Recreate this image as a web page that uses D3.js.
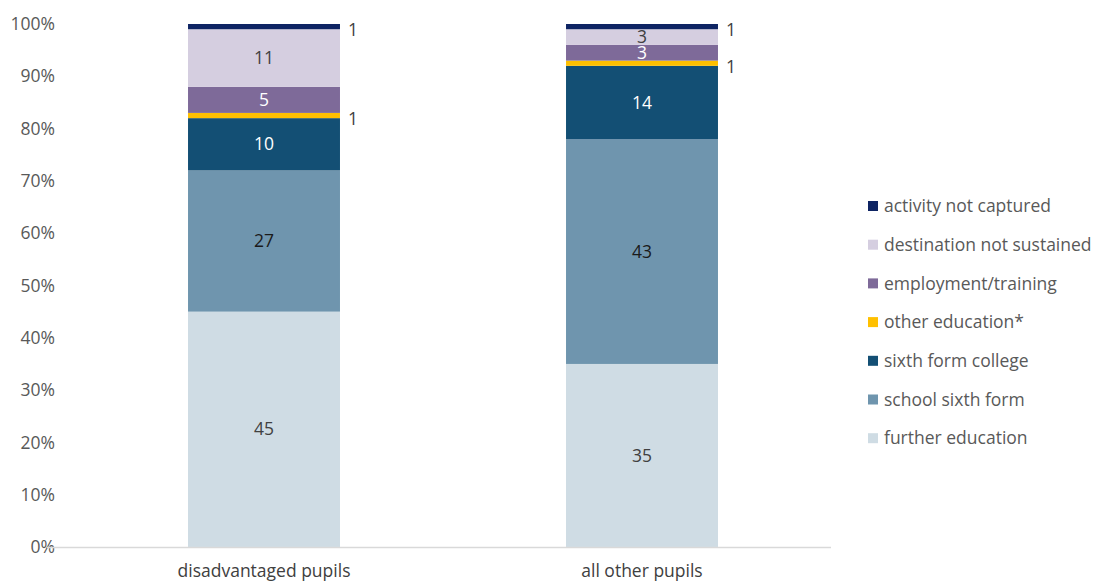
<!DOCTYPE html>
<html>
<head>
<meta charset="utf-8">
<script src="https://cdn.jsdelivr.net/npm/d3@7"></script>
<style>
  html, body { margin: 0; padding: 0; background: #fff; }
  svg text { font-family: "Open Sans", Lato, sans-serif; }
</style>
</head>
<body>
<svg id="chart" width="1100" height="585"></svg>
<script>
// Pupil groups and destination categories (stack order, bottom to top)
const groups = ["disadvantaged pupils", "all other pupils"];
const destinations = [
  "further education",
  "school sixth form",
  "sixth form college",
  "other education*",
  "employment/training",
  "destination not sustained",
  "activity not captured"
];
// Percentages per destination, one entry per group
const furtherEducation = [45, 35];
const schoolSixthForm = [27, 43];
const sixthFormCollege = [10, 14];
const otherEducation = [1, 1];
const employmentTraining = [5, 3];
const notSustained = [11, 3];
const notCaptured = [1, 1];
const tickLabels = ["0%", "10%", "20%", "30%", "40%", "50%", "60%", "70%", "80%", "90%", "100%"];

const seriesValues = [furtherEducation, schoolSixthForm, sixthFormCollege,
  otherEducation, employmentTraining, notSustained, notCaptured];

const colors = ["#CFDCE4", "#6F95AE", "#134F74", "#FFC000", "#7E6A99", "#D5CEE0", "#0E2463"];
const labelColors = ["#404040", "#1a1a1a", "#ffffff", "#404040", "#ffffff", "#404040", "#404040"];
// thin segments get their label beside the bar
const outsideLabel = [false, false, false, true, false, false, true];

const FS = 17.5;

const rows = groups.map((g, i) => {
  const r = { group: g };
  destinations.forEach((d, j) => r[d] = seriesValues[j][i]);
  return r;
});

const svg = d3.select("#chart");
const y = d3.scaleLinear().domain([0, 100]).range([547, 24]);
const x = d3.scaleBand().domain(groups).range([75, 831]).paddingInner(0.598).paddingOuter(0.299);

const stack = d3.stack().keys(destinations)(rows);

// y tick labels
svg.append("g").selectAll("text")
  .data(d3.range(0, 101, 10))
  .join("text")
  .attr("x", 55).attr("y", d => y(d)).attr("dy", "0.35em")
  .attr("text-anchor", "end")
  .attr("font-size", FS).attr("fill", "#595959")
  .text((d, i) => tickLabels[i]);

// bars
const layers = svg.append("g").selectAll("g")
  .data(stack).join("g")
  .attr("fill", (d, i) => colors[i]);
layers.selectAll("rect")
  .data(d => d).join("rect")
  .attr("x", d => x(d.data.group))
  .attr("width", x.bandwidth())
  .attr("y", d => y(d[1]))
  .attr("height", d => y(d[0]) - y(d[1]));

// axis baseline
svg.append("line")
  .attr("x1", 47).attr("x2", 831).attr("y1", y(0) + 0.5).attr("y2", y(0) + 0.5)
  .attr("stroke", "#D9D9D9").attr("stroke-width", 1.3);

// value labels
stack.forEach((layer, i) => {
  svg.append("g").selectAll("text")
    .data(layer).join("text")
    .attr("x", d => outsideLabel[i] ? x(d.data.group) + x.bandwidth() + 8 : x(d.data.group) + x.bandwidth() / 2)
    .attr("y", d => y((d[0] + d[1]) / 2) + (outsideLabel[i] ? 3.5 : 0))
    .attr("dy", "0.35em")
    .attr("text-anchor", outsideLabel[i] ? "start" : "middle")
    .attr("font-size", FS)
    .attr("fill", labelColors[i])
    .text(d => d[1] - d[0]);
});

// category labels
svg.append("g").selectAll("text")
  .data(groups).join("text")
  .attr("x", d => x(d) + x.bandwidth() / 2)
  .attr("y", 577)
  .attr("text-anchor", "middle")
  .attr("font-size", FS).attr("fill", "#404040")
  .text(d => d);

// legend, top entry is the top of the stack
const legendItems = destinations.map((d, i) => ({ name: d, color: colors[i] })).reverse();
const legend = svg.append("g").selectAll("g")
  .data(legendItems).join("g")
  .attr("transform", (d, i) => `translate(868, ${206 + i * 38.7})`);
legend.append("rect")
  .attr("x", 0).attr("y", -5).attr("width", 10).attr("height", 10)
  .attr("fill", d => d.color);
legend.append("text")
  .attr("x", 16).attr("dy", "0.35em")
  .attr("font-size", FS).attr("fill", "#595959")
  .text(d => d.name);
</script>
</body>
</html>
